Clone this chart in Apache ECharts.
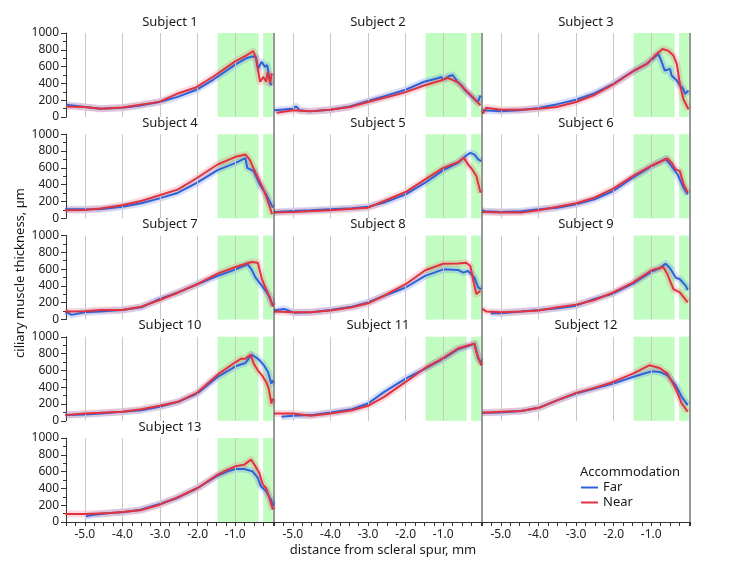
<!DOCTYPE html>
<html><head><meta charset="utf-8">
<script src="https://cdn.jsdelivr.net/npm/echarts@6/dist/echarts.min.js"></script>
<style>html,body{margin:0;padding:0;background:#fff}#c{width:732px;height:564px}</style>
</head><body><div id="c"></div>
<script>
// ---------- data (x = distance from scleral spur in mm, y = thickness in µm) ----------
const subjects = ['Subject 1','Subject 2','Subject 3','Subject 4','Subject 5','Subject 6','Subject 7','Subject 8','Subject 9','Subject 10','Subject 11','Subject 12','Subject 13'];

const far1  = [[-5.5,146],[-5.0,118],[-4.58,99],[-4.0,110],[-3.52,138],[-3.02,178],[-2.55,237],[-2.03,324],[-1.58,446],[-1.0,624],[-0.69,703],[-0.55,720],[-0.45,715],[-0.39,578],[-0.3,656],[-0.21,597],[-0.15,617],[-0.07,403],[-0.03,380]];
const near1 = [[-5.5,126],[-5.0,118],[-4.58,99],[-4.0,112],[-3.52,146],[-3.02,180],[-2.55,276],[-2.03,355],[-1.58,482],[-1.0,663],[-0.69,738],[-0.52,785],[-0.45,700],[-0.38,520],[-0.34,420],[-0.25,478],[-0.18,419],[-0.14,537],[-0.07,403],[-0.03,522]];

const far2  = [[-5.49,79],[-5.0,99],[-4.91,126],[-4.82,79],[-4.55,67],[-4.01,87],[-3.48,126],[-3.0,190],[-2.49,257],[-2.0,324],[-1.51,420],[-1.2,455],[-1.06,474],[-0.97,450],[-0.85,485],[-0.75,500],[-0.62,420],[-0.5,370],[-0.44,330],[-0.26,250],[-0.08,178],[-0.01,257]];
const near2 = [[-5.43,51],[-5.0,79],[-4.55,67],[-4.01,87],[-3.48,118],[-3.0,178],[-2.49,237],[-2.0,296],[-1.51,375],[-1.06,434],[-0.88,466],[-0.62,415],[-0.44,336],[-0.26,257],[-0.01,138]];

const far3  = [[-5.48,79],[-5.0,67],[-4.5,79],[-4.0,107],[-3.52,150],[-3.0,205],[-2.5,284],[-2.01,395],[-1.48,545],[-1.12,632],[-0.81,750],[-0.72,652],[-0.64,553],[-0.5,573],[-0.46,494],[-0.32,434],[-0.24,375],[-0.15,336],[-0.1,276],[-0.01,316]];
const near3 = [[-5.48,40],[-5.39,111],[-5.0,87],[-4.5,87],[-4.0,99],[-3.52,118],[-3.0,178],[-2.5,265],[-2.01,387],[-1.48,545],[-1.12,632],[-0.86,750],[-0.7,810],[-0.55,790],[-0.41,731],[-0.32,632],[-0.24,395],[-0.15,217],[-0.01,91]];

const far4  = [[-5.52,107],[-5.0,107],[-4.59,107],[-4.01,138],[-3.5,178],[-3.01,237],[-2.52,304],[-2.01,423],[-1.47,573],[-0.99,660],[-0.73,715],[-0.68,600],[-0.51,561],[-0.35,403],[-0.18,284],[0.0,126]];
const near4 = [[-5.52,95],[-5.0,99],[-4.59,115],[-4.01,154],[-3.5,205],[-3.01,273],[-2.52,344],[-2.01,482],[-1.47,640],[-0.99,731],[-0.73,758],[-0.62,700],[-0.46,541],[-0.29,383],[-0.18,265],[-0.02,47]];

const far5  = [[-5.5,75],[-5.0,87],[-4.52,95],[-4.0,107],[-3.43,118],[-3.0,138],[-2.57,186],[-2.0,284],[-1.48,423],[-1.0,573],[-0.61,660],[-0.39,747],[-0.28,778],[-0.17,758],[-0.07,700],[0.01,680]];
const near5 = [[-5.5,67],[-5.0,75],[-4.0,95],[-3.0,126],[-2.57,205],[-2.0,312],[-1.48,462],[-1.0,600],[-0.61,668],[-0.45,719],[-0.34,640],[-0.23,581],[-0.12,502],[-0.01,304]];

const far6  = [[-5.49,95],[-5.43,83],[-5.0,75],[-4.46,83],[-3.99,107],[-3.49,126],[-3.0,166],[-2.51,225],[-2.01,324],[-1.49,482],[-0.99,620],[-0.62,707],[-0.46,620],[-0.3,521],[-0.14,363],[-0.03,284]];
const near6 = [[-5.49,75],[-5.0,67],[-4.46,67],[-3.99,95],[-3.49,138],[-3.0,178],[-2.51,245],[-2.01,352],[-1.49,502],[-0.99,628],[-0.57,711],[-0.46,660],[-0.35,581],[-0.24,561],[-0.14,403],[-0.03,304]];

const far7  = [[-5.52,94],[-5.35,55],[-5.0,86],[-4.59,94],[-4.01,114],[-3.5,145],[-3.01,244],[-2.52,322],[-2.01,420],[-1.47,519],[-0.99,597],[-0.67,656],[-0.57,597],[-0.46,499],[-0.29,401],[-0.13,303],[0.0,165]];
const near7 = [[-5.52,94],[-5.0,98],[-4.59,114],[-4.01,114],[-3.5,153],[-3.01,232],[-2.52,322],[-2.01,420],[-1.47,546],[-0.99,625],[-0.57,684],[-0.4,676],[-0.29,479],[-0.18,362],[-0.08,263],[0.0,153]];

const far8  = [[-5.5,106],[-5.23,126],[-4.96,79],[-4.52,86],[-4.0,114],[-3.43,153],[-3.0,204],[-2.57,283],[-2.0,381],[-1.48,519],[-1.0,597],[-0.61,590],[-0.47,558],[-0.34,578],[-0.17,499],[-0.07,381],[0.01,362]];
const near8 = [[-5.5,94],[-4.96,86],[-4.52,86],[-4.0,106],[-3.43,145],[-3.0,193],[-2.57,283],[-2.0,420],[-1.48,586],[-1.0,664],[-0.61,668],[-0.39,676],[-0.28,637],[-0.17,401],[-0.12,303],[-0.01,342]];

const far9  = [[-5.27,75],[-5.0,75],[-4.46,94],[-3.99,114],[-3.49,134],[-3.0,165],[-2.51,244],[-2.01,310],[-1.49,428],[-0.99,570],[-0.78,609],[-0.62,664],[-0.51,617],[-0.35,499],[-0.24,479],[-0.08,401],[-0.03,350]];
const near9 = [[-5.49,126],[-5.38,94],[-5.0,86],[-4.46,94],[-3.99,106],[-3.49,145],[-3.0,177],[-2.51,232],[-2.01,322],[-1.49,440],[-0.99,586],[-0.68,625],[-0.57,538],[-0.41,362],[-0.24,322],[-0.03,204]];

const far10  = [[-5.52,67],[-5.0,75],[-4.59,87],[-4.01,107],[-3.5,126],[-3.01,166],[-2.52,225],[-2.01,324],[-1.47,521],[-0.99,648],[-0.73,687],[-0.57,786],[-0.46,758],[-0.35,719],[-0.24,660],[-0.13,581],[-0.04,442],[0.0,482]];
const near10 = [[-5.52,67],[-5.0,87],[-4.59,95],[-4.01,107],[-3.5,138],[-3.01,178],[-2.52,225],[-2.01,336],[-1.47,549],[-0.99,699],[-0.84,739],[-0.73,739],[-0.59,786],[-0.51,680],[-0.4,600],[-0.29,541],[-0.18,462],[-0.11,383],[-0.04,205],[0.0,265]];

const far11  = [[-5.3,47],[-5.0,59],[-4.52,67],[-4.0,99],[-3.43,138],[-3.0,205],[-2.57,344],[-2.0,502],[-1.48,620],[-1.0,739],[-0.61,850],[-0.28,897],[-0.17,916],[-0.12,837],[-0.07,739],[0.01,700]];
const near11 = [[-5.5,87],[-5.0,87],[-4.52,59],[-4.0,87],[-3.43,126],[-3.0,178],[-2.57,284],[-2.0,462],[-1.48,628],[-1.0,747],[-0.61,860],[-0.28,905],[-0.17,916],[-0.12,818],[-0.07,758],[0.01,660]];

const far12  = [[-5.49,95],[-5.0,99],[-4.46,115],[-3.99,154],[-3.49,245],[-3.0,324],[-2.51,383],[-2.01,442],[-1.49,521],[-0.99,589],[-0.78,581],[-0.57,541],[-0.35,423],[-0.19,284],[-0.03,186]];
const near12 = [[-5.49,95],[-5.0,107],[-4.46,115],[-3.99,154],[-3.49,245],[-3.0,332],[-2.51,391],[-2.01,462],[-1.49,561],[-1.05,660],[-0.78,628],[-0.57,561],[-0.35,383],[-0.19,205],[-0.03,107]];

const far13  = [[-4.98,67],[-4.76,87],[-4.32,107],[-4.0,115],[-3.52,147],[-3.01,214],[-2.54,286],[-2.0,405],[-1.47,552],[-1.2,603],[-1.0,631],[-0.76,631],[-0.54,603],[-0.4,524],[-0.32,425],[-0.18,365],[-0.05,266],[0.01,195]];
const near13 = [[-5.52,95],[-5.29,95],[-4.98,95],[-4.76,99],[-4.32,107],[-4.0,119],[-3.52,139],[-3.01,206],[-2.54,294],[-2.0,405],[-1.47,564],[-1.2,623],[-1.0,663],[-0.76,683],[-0.58,742],[-0.49,683],[-0.36,584],[-0.27,445],[-0.18,405],[-0.09,286],[0.0,147]];

const farSeries  = [far1,far2,far3,far4,far5,far6,far7,far8,far9,far10,far11,far12,far13];
const nearSeries = [near1,near2,near3,near4,near5,near6,near7,near8,near9,near10,near11,near12,near13];

const gridX = [-5, -4, -3, -2, -1];          // vertical reference lines
const xTickLabels = [-5, -4, -3, -2, -1];    // labelled x ticks
const zoneA = [-1.47, -0.38];                // green zones
const zoneB = [-0.26, 0.0];
const legendNames = ['Far', 'Near'];

// ---------- style / layout ----------
const BLUE = '#2f62d8', RED = '#e0323f';
const BLUE_BAND = 'rgba(90,130,235,0.25)', RED_BAND = 'rgba(235,90,100,0.22)';
const GREEN = '#c1fcc1';
const FONT = 'Noto Sans';
const COLL = [66, 274, 482], PW = 208, TOP0 = 33, PITCH = 101.25, PH = 84;
const XMIN = -5.5, XMAX = 0.03;

const grids = [], xAxes = [], yAxes = [], series = [], graphics = [];
const nPanels = 15;
for (let g = 0; g < nPanels; g++) {
  const row = Math.floor(g / 3), col = g % 3;
  const top = TOP0 + row * PITCH;
  grids.push({left: COLL[col], top: top, width: PW, height: PH, containLabel: false});
  const bottomRow = row === 4;
  xAxes.push({
    gridIndex: g, type: 'value', min: XMIN, max: XMAX, interval: 0.25, show: bottomRow, position: 'bottom',
    axisLine: {show: bottomRow, onZero: false, lineStyle: {color: '#333', width: 1}},
    axisTick: {show: bottomRow, length: 4, lineStyle: {color: '#333'}},
    axisLabel: {show: bottomRow, fontSize: 12, color: '#222', fontFamily: FONT, margin: 7,
      formatter: v => xTickLabels.some(t => Math.abs(t - v) < 1e-6) ? v.toFixed(1) : ''},
    splitLine: {show: false}
  });
  const hasData = g < subjects.length;
  const showY = col === 0 && hasData;
  yAxes.push({
    gridIndex: g, type: 'value', min: 0, max: 1000, interval: 200, position: 'left',
    show: showY,
    axisLine: {show: showY, onZero: false, lineStyle: {color: '#333', width: 1}},
    axisTick: {show: showY, length: 5, lineStyle: {color: '#333'}},
    minorTick: {show: showY, splitNumber: 2, length: 3, lineStyle: {color: '#333'}},
    axisLabel: {show: showY, fontSize: 12, color: '#222', fontFamily: FONT, margin: 7, formatter: v => String(v)},
    splitLine: {show: false}
  });
  if (!hasData) continue;
  graphics.push({type: 'text', x: COLL[col] + PW / 2, y: top - 11, z: 10,
    style: {text: subjects[g], fontSize: 13, fontFamily: FONT, fill: '#1a1a1a', textAlign: 'center', textVerticalAlign: 'middle'}});
  series.push({
    type: 'line', xAxisIndex: g, yAxisIndex: g, data: [], z: 1, silent: true,
    markArea: {silent: true, itemStyle: {color: GREEN}, label: {show: false},
      data: [[{xAxis: zoneA[0]}, {xAxis: zoneA[1]}], [{xAxis: zoneB[0]}, {xAxis: zoneB[1]}]]}
  });
  series.push({
    type: 'line', xAxisIndex: g, yAxisIndex: g, data: [], z: 2, silent: true,
    markLine: {silent: true, symbol: 'none', label: {show: false},
      lineStyle: {color: '#c8c8c8', width: 1, type: 'solid'},
      data: gridX.map(v => ({xAxis: v}))}
  });
  series.push({type: 'line', name: 'Far band', xAxisIndex: g, yAxisIndex: g, data: farSeries[g], showSymbol: false, symbol: 'none', silent: true, z: 3,
    lineStyle: {width: 7, color: BLUE_BAND, join: 'round', cap: 'butt'}});
  series.push({type: 'line', name: 'Near band', xAxisIndex: g, yAxisIndex: g, data: nearSeries[g], showSymbol: false, symbol: 'none', silent: true, z: 3,
    lineStyle: {width: 7, color: RED_BAND, join: 'round', cap: 'butt'}});
  series.push({type: 'line', name: 'Far', xAxisIndex: g, yAxisIndex: g, data: farSeries[g], showSymbol: false, symbol: 'none', z: 4,
    lineStyle: {width: 2, color: BLUE}, itemStyle: {color: BLUE}});
  series.push({type: 'line', name: 'Near', xAxisIndex: g, yAxisIndex: g, data: nearSeries[g], showSymbol: false, symbol: 'none', z: 5,
    lineStyle: {width: 2, color: RED}, itemStyle: {color: RED}});
}

// frame lines between/right of columns
const yTop = TOP0, yBot = TOP0 + 4 * PITCH + PH;
[COLL[1], COLL[2], COLL[2] + PW].forEach(x => {
  graphics.push({type: 'line', z: 20, shape: {x1: x, y1: yTop, x2: x, y2: yBot}, style: {stroke: '#333', lineWidth: 1}});
});
// axis titles
graphics.push({type: 'text', x: 383, y: 550, z: 10,
  style: {text: 'distance from scleral spur, mm', fontSize: 13, fontFamily: FONT, fill: '#1a1a1a', textAlign: 'center', textVerticalAlign: 'middle'}});
graphics.push({type: 'text', x: 20, y: 273, rotation: Math.PI / 2, z: 10,
  style: {text: 'ciliary muscle thickness, µm', fontSize: 13, fontFamily: FONT, fill: '#1a1a1a', textAlign: 'center', textVerticalAlign: 'middle'}});
graphics.push({type: 'text', x: 580, y: 472, z: 10,
  style: {text: 'Accommodation', fontSize: 13, fontFamily: FONT, fill: '#1a1a1a', textAlign: 'left', textVerticalAlign: 'middle'}});

const chart = echarts.init(document.getElementById('c'), null, {renderer: 'canvas'});
chart.setOption({
  animation: false,
  backgroundColor: '#fff',
  textStyle: {fontFamily: FONT},
  grid: grids, xAxis: xAxes, yAxis: yAxes, series: series,
  legend: {data: legendNames, orient: 'vertical', left: 581, top: 480, icon: 'rect', itemWidth: 17, itemHeight: 2,
    itemGap: 0, padding: 0, selectedMode: false,
    textStyle: {fontSize: 13, color: '#1a1a1a', fontFamily: FONT, lineHeight: 15}},
  graphic: graphics
});
</script></body></html>
